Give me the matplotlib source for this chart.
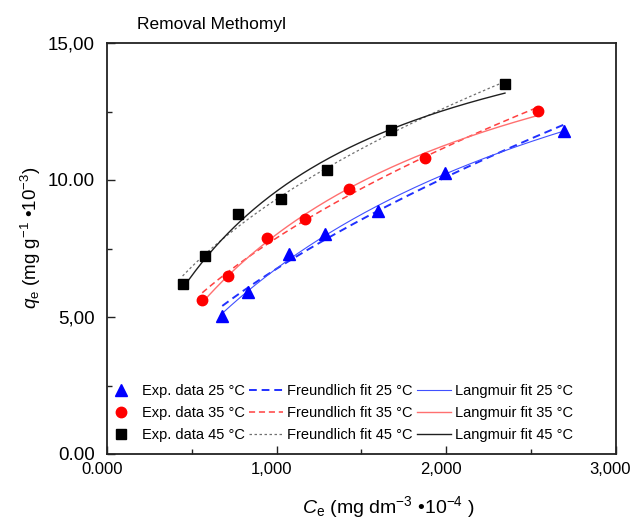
import numpy as np
import matplotlib
matplotlib.use("Agg")
import matplotlib.pyplot as plt
from matplotlib.transforms import ScaledTranslation

plt.rcParams['font.family'] = ['Liberation Sans', 'DejaVu Sans']
plt.rcParams['mathtext.fontset'] = 'custom'
plt.rcParams['mathtext.rm'] = 'Liberation Sans'
plt.rcParams['mathtext.it'] = 'Liberation Sans:italic'
plt.rcParams['mathtext.bf'] = 'Liberation Sans:bold'

# ---- data ----
ce_25 = [0.680, 0.834, 1.076, 1.284, 1.597, 1.994, 2.696]
qe_25 = [5.04, 5.92, 7.30, 8.04, 8.88, 10.24, 11.80]
ce_35 = [0.562, 0.716, 0.944, 1.168, 1.430, 1.874, 2.545]
qe_35 = [5.62, 6.51, 7.89, 8.58, 9.68, 10.81, 12.52]
ce_45 = [0.446, 0.578, 0.771, 1.029, 1.296, 1.677, 2.348]
qe_45 = [6.19, 7.22, 8.76, 9.30, 10.35, 11.81, 13.50]

temps = ["25", "35", "45"]
x_ticks = [0, 1, 2, 3]
x_ticklabels = ["0.000", "1,000", "2,000", "3,000"]
y_ticks = [0, 5, 10, 15]
y_ticklabels = ["0.00", "5,00", "10.00", "15,00"]

series = [
    (ce_25, qe_25, dict(marker='^', color='#0000ff', ms=8),
     dict(color='#2030ff', lw=1.4, ls=(0, (4, 2.5))),
     dict(color='#4050ff', lw=0.8, ls='-')),
    (ce_35, qe_35, dict(marker='o', color='#ff0000', ms=7.5),
     dict(color='#ff4040', lw=1.1, ls=(0, (4, 2.5))),
     dict(color='#ff7070', lw=1.0, ls='-')),
    (ce_45, qe_45, dict(marker='s', color='#000000', ms=6.5),
     dict(color='#707070', lw=0.9, ls=(0, (2, 2))),
     dict(color='#202020', lw=1.0, ls='-')),
]


def freundlich_fit(c, q):
    # weighted log-log regression ~ nonlinear least squares on q
    b, a = np.polyfit(np.log(c), np.log(q), 1, w=q)
    return np.exp(a), b


def langmuir_fit(c, q):
    best = None
    for K in np.logspace(-2, 1.5, 4000):
        f = K * c / (1 + K * c)
        qm = np.dot(f, q) / np.dot(f, f)
        sse = np.sum((q - qm * f) ** 2)
        if best is None or sse < best[0]:
            best = (sse, qm, K)
    return best[1], best[2]


fig = plt.figure(figsize=(6.35, 5.22), dpi=100)
ax = fig.add_axes([107/635, 1-454/522, (615.5-107)/635, (454-43)/522])

h_exp, h_fr, h_la = [], [], []
for (ce, qe, mk, fr_style, la_style), t in zip(series, temps):
    c = np.array(ce)
    q = np.array(qe)
    xs = np.linspace(c.min(), c.max(), 200)
    kf, nf = freundlich_fit(c, q)
    fr = kf * xs ** nf
    qm, K = langmuir_fit(c, q)
    la = qm * K * xs / (1 + K * xs)
    l2, = ax.plot(xs, fr, **fr_style, zorder=2)
    l3, = ax.plot(xs, la, **la_style, zorder=2)
    l1, = ax.plot(c, q, ls='none', marker=mk['marker'], color=mk['color'],
                  ms=mk['ms'], mec=mk['color'], zorder=3)
    h_exp.append((l1, f"Exp. data {t} °C"))
    h_fr.append((l2, f"Freundlich fit {t} °C"))
    h_la.append((l3, f"Langmuir fit {t} °C"))

handles = [h for h, _ in h_exp + h_fr + h_la]
labels = [l for _, l in h_exp + h_fr + h_la]
leg = ax.legend(handles, labels, ncol=3, loc='lower left',
                bbox_to_anchor=(-0.012, 0.022), frameon=False, fontsize=10.5,
                handlelength=2.35, handletextpad=0.25, columnspacing=0.3,
                labelspacing=0.55, borderpad=0.2, borderaxespad=0)

ax.set_xlim(0, 3)
ax.set_ylim(0, 15)
ax.set_xticks(x_ticks)
ax.set_xticklabels(x_ticklabels)
ax.set_yticks(y_ticks)
ax.set_yticklabels(y_ticklabels)
ax.set_xticks([0.5, 1.5, 2.5], minor=True)
ax.set_yticks([2.5, 7.5, 12.5], minor=True)
ax.tick_params(which='major', direction='in', length=6, width=1.0,
               top=False, right=False, color='#222222')
ax.tick_params(axis='x', which='major', labelsize=12, pad=6)
ax.tick_params(axis='y', which='major', labelsize=13.5, pad=9)
ax.tick_params(which='minor', direction='in', length=3.5, width=1.0,
               top=False, right=False, color='#222222')
shift = ScaledTranslation(-5/100, 0, fig.dpi_scale_trans)
for lab in ax.get_xticklabels():
    lab.set_transform(lab.get_transform() + shift)
for sp in ax.spines.values():
    sp.set_linewidth(1.3)
    sp.set_color('#222222')

ax.set_xlabel(r"$C_{\rm e}$ (mg dm$^{-3}$ •10$^{-4}$ )", fontsize=14)
ax.xaxis.set_label_coords(0.553, -0.098)
ax.set_ylabel(r"$q_{\rm e}$ (mg g$^{-1}$ •10$^{-3}$)", fontsize=13.5)
ax.yaxis.set_label_coords(-0.125, 0.525)

fig.text(137/635, 1-25/522, "Removal Methomyl", fontsize=12.5, ha='left', va='center')

fig.savefig("out.png", dpi=100)
